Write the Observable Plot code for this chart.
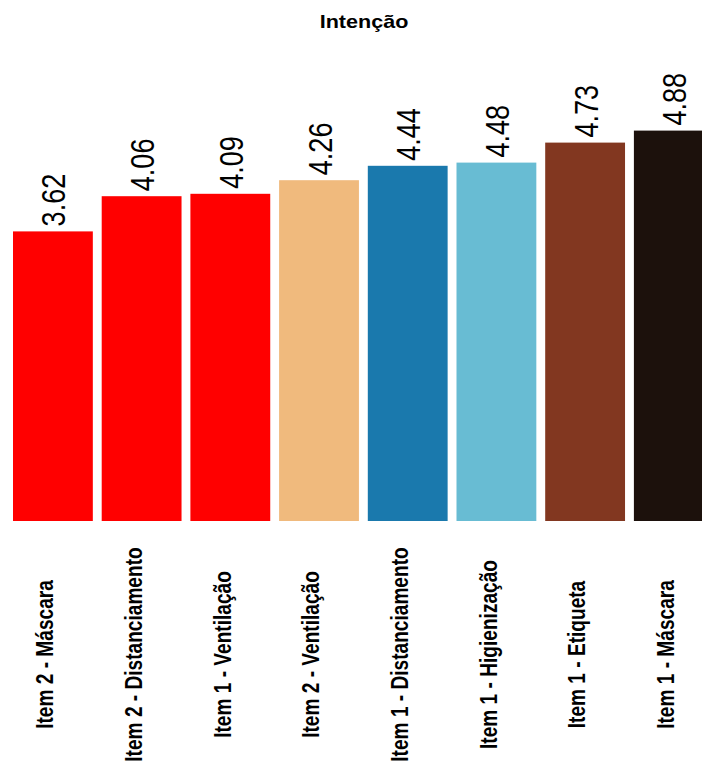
<!DOCTYPE html>
<html>
<head>
<meta charset="utf-8">
<script src="https://cdn.jsdelivr.net/npm/d3@7"></script>
<script src="https://cdn.jsdelivr.net/npm/@observablehq/plot@0.6"></script>
<style>
  html, body { margin: 0; padding: 0; background: #fff; overflow: hidden; }
  #head { position: relative; width: 702px; height: 40px; }
  #head span {
    position: absolute; left: 363.7px; top: 12.5px;
    font: bold 18.6px "Liberation Sans", Arial, sans-serif; line-height: 1;
    color: #000; white-space: nowrap;
    transform: translateX(-50%) scaleX(1.16);
  }
  #chart svg { display: block; }
</style>
</head>
<body>
<div id="head"><span>Intenção</span></div>
<div id="chart"></div>
<script>
// Intention scores per item, sorted ascending
const items = [
  "Item 2 - Máscara",
  "Item 2 - Distanciamento",
  "Item 1 - Ventilação",
  "Item 2 - Ventilação",
  "Item 1 - Distanciamento",
  "Item 1 - Higienização",
  "Item 1 - Etiqueta",
  "Item 1 - Máscara"
];
const scores = [3.62, 4.06, 4.09, 4.26, 4.44, 4.48, 4.73, 4.88];

// Fill colour for each bar, in the same order
const barColors = ["#FF0000", "#FF0000", "#FF0000", "#F0BA7D", "#1A79AD", "#68BCD3", "#823720", "#1C110C"];

const rows = items.map((item, i) => ({item, score: scores[i], color: barColors[i]}));

const W = 702, H = 722;
const font = "'Liberation Sans', Arial, sans-serif";

const chart = Plot.plot({
  width: W,
  height: H,
  margin: 0,
  style: {background: "#fff", overflow: "hidden"},
  x: {type: "band", domain: items, range: [4.13, 722.6], padding: 0.1, round: false, axis: null},
  y: {domain: [0, 5.5], range: [481, 41], axis: null},
  color: {type: "identity"},
  marks: [
    Plot.barY(rows, {x: "item", y: "score", fill: "color"}),
    Plot.text(rows, {
      x: "item", y: "score",
      text: d => d.score.toFixed(2),
      rotate: -90, textAnchor: "start", lineAnchor: "middle",
      dx: 1.5, dy: -5.5,
      fontSize: 33, fontFamily: font, fill: "#000",
      className: "value-label"
    }),
    Plot.text(rows, {
      x: "item", text: "item",
      frameAnchor: "top", dy: 614,
      rotate: -90, textAnchor: "middle", lineAnchor: "middle",
      dx: -7.6,
      fontSize: 23.3, fontWeight: "bold", fontFamily: font, fill: "#000",
      className: "item-label"
    })
  ]
});

// Condense the rotated labels along their reading direction
d3.select(chart).selectAll(".value-label text, .item-label text")
  .attr("transform", function () {
    return (this.getAttribute("transform") || "") + " scale(0.82,1)";
  });

document.getElementById("chart").appendChild(chart);
</script>
</body>
</html>
